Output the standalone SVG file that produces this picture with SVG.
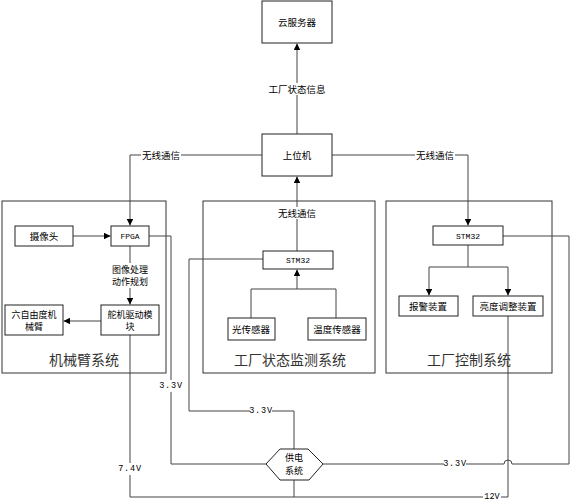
<svg xmlns="http://www.w3.org/2000/svg" width="572" height="502" viewBox="0 0 572 502">
<style>
.box{fill:#fff;stroke:#222;stroke-width:1}
.sys{fill:none;stroke:#333;stroke-width:1}
.t{font-family:"Noto Sans CJK SC","Liberation Sans",sans-serif;font-size:9.5px;fill:#000;text-anchor:middle;dominant-baseline:central}
.t2{font-family:"Noto Sans CJK SC","Liberation Sans",sans-serif;font-size:9px;fill:#000;text-anchor:middle}
.m{font-family:"Liberation Mono",monospace;font-size:8px;fill:#000;text-anchor:middle;dominant-baseline:central}
.v{font-family:"Liberation Mono",monospace;font-size:8.5px;fill:#000;text-anchor:middle;dominant-baseline:central}
.big{font-family:"Noto Sans CJK SC","Liberation Sans",sans-serif;font-size:14px;fill:#333;text-anchor:middle;dominant-baseline:central}
.c{fill:none;stroke:#444;stroke-width:1}
.lb{fill:#fff}
</style>
<defs>
<marker id="a" viewBox="0 0 10 10" refX="10" refY="5" markerWidth="6.5" markerHeight="6.5" markerUnits="userSpaceOnUse" orient="auto">
<path d="M0,0 L10,5 L0,10 z" fill="#000"/>
</marker>
</defs>
<rect width="572" height="502" fill="#fff"/>
<g id="sys-arm"><rect class="sys" x="2" y="201" width="164" height="172"/><text class="big" x="84" y="359">机械臂系统</text></g>
<g id="sys-monitor"><rect class="sys" x="203" y="201" width="172" height="172"/><text class="big" x="290" y="359">工厂状态监测系统</text></g>
<g id="sys-control"><rect class="sys" x="386" y="201" width="166" height="172"/><text class="big" x="469" y="359">工厂控制系统</text></g>
<g id="connectors">
<path class="c" d="M297,134 V43.5" marker-end="url(#a)"/>
<path class="c" d="M262,155 H130 V225.5" marker-end="url(#a)"/>
<path class="c" d="M332,155 H468 V225.5" marker-end="url(#a)"/>
<path class="c" d="M297,251 V176.5" marker-end="url(#a)"/>
<path class="c" d="M73,236 H110.5" marker-end="url(#a)"/>
<path class="c" d="M130,246 V304.5" marker-end="url(#a)"/>
<path class="c" d="M101,321 H63.5" marker-end="url(#a)"/>
<path class="c" d="M251,318 V289 H336 V318 M297,289 V269.5" marker-end="url(#a)"/>
<path class="c" d="M468,245 V267 H429 V295.5" marker-end="url(#a)"/>
<path class="c" d="M468,267 H508 V295.5" marker-end="url(#a)"/>
<path class="c" d="M149,236 H171 V464 H266"/>
<path class="c" d="M263,259 H189 V411 H294 V449"/>
<path class="c" d="M130,335 V497 H508 V316"/>
<path class="c" d="M294,480 V497"/>
<path class="c" d="M323,464 H504 A4,4 0 0 1 512,464 H569 V236 H503"/>
<rect class="lb" x="264" y="83" width="64" height="12"/><text class="t" x="297" y="89">工厂状态信息</text>
<rect class="lb" x="141" y="149" width="40" height="12"/><text class="t" x="161" y="155">无线通信</text>
<rect class="lb" x="415" y="149" width="40" height="12"/><text class="t" x="435" y="155">无线通信</text>
<rect class="lb" x="277" y="207" width="40" height="12"/><text class="t" x="297" y="213">无线通信</text>
<rect class="lb" x="111" y="263" width="38" height="25"/><text class="t2" x="130" y="273">图像处理</text><text class="t2" x="130" y="285">动作规划</text>
<rect class="lb" x="160" y="380" width="22" height="12"/><text class="v" x="171" y="386" letter-spacing="0.8">3.3V</text>
<rect class="lb" x="250" y="405" width="22" height="12"/><text class="v" x="261" y="411" letter-spacing="0.8">3.3V</text>
<rect class="lb" x="444" y="458" width="22" height="12"/><text class="v" x="455" y="464" letter-spacing="0.8">3.3V</text>
<rect class="lb" x="119" y="463" width="22" height="12"/><text class="v" x="130" y="469" letter-spacing="0.8">7.4V</text>
<rect class="lb" x="483" y="491" width="18" height="11"/><text class="v" x="492" y="497">12V</text>
</g>
<g id="cloud"><rect class="box" x="262" y="1" width="70" height="42"/><text class="t" x="297" y="22">云服务器</text></g>
<g id="host"><rect class="box" x="262" y="134" width="70" height="42"/><text class="t" x="297" y="155">上位机</text></g>
<g id="camera"><rect class="box" x="15" y="226" width="58" height="20"/><text class="t" x="44" y="236">摄像头</text></g>
<g id="fpga"><rect class="box" x="111" y="226" width="38" height="20"/><text class="m" x="130" y="236">FPGA</text></g>
<g id="servo"><rect class="box" x="101" y="305" width="58" height="30"/><text class="t2" x="130" y="318">舵机驱动模</text><text class="t2" x="130" y="330">块</text></g>
<g id="arm"><rect class="box" x="5" y="305" width="58" height="30"/><text class="t2" x="34" y="318">六自由度机</text><text class="t2" x="34" y="330">械臂</text></g>
<g id="stm32-mon"><rect class="box" x="263" y="251" width="70" height="18"/><text class="m" x="298" y="260">STM32</text></g>
<g id="light"><rect class="box" x="228" y="318" width="47" height="22"/><text class="t" x="251" y="329">光传感器</text></g>
<g id="temp"><rect class="box" x="308" y="318" width="58" height="22"/><text class="t" x="337" y="329">温度传感器</text></g>
<g id="stm32-ctl"><rect class="box" x="433" y="226" width="70" height="19"/><text class="m" x="468" y="236">STM32</text></g>
<g id="alarm"><rect class="box" x="399" y="296" width="59" height="20"/><text class="t" x="428" y="306">报警装置</text></g>
<g id="bright"><rect class="box" x="473" y="296" width="70" height="20"/><text class="t" x="508" y="306">亮度调整装置</text></g>
<g id="power"><path class="box" d="M266,464 L280,449 H308 L323,464 L309,480 H280 z"/><text class="t2" x="294" y="461">供电</text><text class="t2" x="294" y="474">系统</text></g>
</svg>
